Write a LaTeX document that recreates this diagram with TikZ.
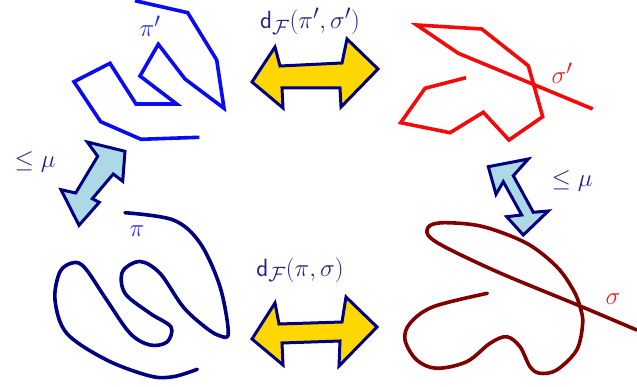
\documentclass[tikz,border=0pt]{standalone}
\usepackage{amsmath}
\definecolor{labnavy}{RGB}{35,35,140}
\definecolor{polyblue}{RGB}{10,10,245}
\definecolor{polyred}{RGB}{245,10,10}
\definecolor{curvenavy}{RGB}{0,0,128}
\definecolor{curvered}{RGB}{128,0,0}
\definecolor{arrowgold}{RGB}{255,215,0}
\definecolor{arrowlight}{RGB}{173,216,230}
\definecolor{labblue}{RGB}{40,40,235}
\definecolor{labred}{RGB}{240,30,30}
\tikzset{
  bigfont/.style={font=\fontsize{30}{36}\selectfont, inner sep=0pt},
  distlabel/.style={bigfont, text=labnavy},
  polyline/.style={line width=3.6pt, line join=miter},
  curveline/.style={line width=3.6pt, line cap=round},
  goldarrow/.style={fill=arrowgold, draw=curvenavy, line width=3pt, line join=miter},
  lightarrow/.style={fill=arrowlight, draw=curvenavy, line width=3pt, line join=miter},
}
\begin{document}
\begin{tikzpicture}[x=1pt,y=-1pt]
\useasboundingbox (0,0) rectangle (637,387);

% top-left blue polygon pi'
\draw[polyline, polyblue] (135,0.7) -- (187.7,12.7) -- (216.7,60) -- (224,108.3) -- (185,79)
  -- (158.3,44.3) -- (140,76) -- (176.7,104) -- (136,104) -- (110,63.3) -- (74,81.7)
  -- (100.7,121.7) -- (141,139.3) -- (199.3,137.3);

% top-right red polygon sigma'
\draw[polyline, polyred] (466,77.7) -- (425,88.3) -- (400.7,122.7) -- (450,132.7) -- (483.3,112.3)
  -- (509,140) -- (542.7,116.7) -- (528.3,65.7) -- (481.7,29) -- (416.7,25) -- (458.3,53.3)
  -- (592.7,109);

% bottom-left navy curve pi
\draw[curveline, curvenavy] plot[smooth, tension=0.55] coordinates {
  (125,212.7) (173.3,220) (200,243) (220,286.7) (228.3,333) (219,335.5) (205,327)
  (183,306.7) (160,273.3) (140,261.5) (122.5,271.7) (125,293.3) (150,313.3) (171,327)
  (167,342) (150,345) (130,333.3) (106.7,300) (85,268) (73.3,262.7) (60,271.7) (55,300)
  (66.7,333.3) (106.7,360) (150,376) (173.3,376.7) (197.3,369.3)};

% bottom-right dark red curve sigma
\draw[curveline, curvered] plot[smooth, tension=0.55] coordinates {
  (487.3,293.3) (433.3,306.7) (410,323.3) (405,340) (416.7,360) (436.7,368.3) (466.7,361.7)
  (490,343.3) (506.7,336.7) (520,346.7) (530,366.7) (540,373.3) (556.7,370) (576.7,350)
  (582.7,323.3) (580,306.7) (573.3,290) (556.7,266.7) (526.7,243.3) (483.3,226.7)
  (446.7,222.7) (430,225.5) (428,235) (445,247) (500,273) (580,306) (636.7,330)};

% top gold double arrow
\draw[goldarrow] (252,82) -- (275,47) -- (280,66) -- (342,63) -- (347,39) -- (378,69)
  -- (341,107) -- (340,88) -- (282,88) -- (283,108) -- cycle;

% bottom gold double arrow
\draw[goldarrow] (252,339) -- (275,303) -- (279,324) -- (342,322) -- (346,297) -- (377,327)
  -- (339,366) -- (340,341) -- (282,343) -- (283,365) -- cycle;

% left light-blue double arrow
\draw[lightarrow] (87.3,142) -- (125,151.3) -- (122.7,181.3) -- (113.3,174) -- (92.3,198.7)
  -- (99.3,202.3) -- (79,225.3) -- (61,189.7) -- (75.7,193) -- (97.7,156.3) -- cycle;

% right light-blue double arrow
\draw[lightarrow] (488.3,166.7) -- (528.3,159) -- (513.3,175.7) -- (533.3,212.3) -- (548.3,211)
  -- (523.3,235) -- (506.7,216.7) -- (521.7,215) -- (503.3,181.7) -- (496,194.3) -- cycle;

% labels
\node[distlabel] (dtop) at (310,21.5) {$\mathsf{d}_{\mathcal{F}}(\pi',\sigma')$};
\node[distlabel] (dbot) at (300,270) {$\mathsf{d}_{\mathcal{F}}(\pi,\sigma)$};
\node[distlabel] (muleft) at (35,162) {$\leq\mu$};
\node[distlabel] (muright) at (572,181) {$\leq\mu$};
\node[bigfont, text=labblue] (lpip) at (150,26) {$\pi'$};
\node[bigfont, text=labred] (lsigp) at (562,73) {$\sigma'$};
\node[bigfont, text=labblue] (lpi) at (137,231) {$\pi$};
\node[bigfont, text=labred] (lsig) at (613,299) {$\sigma$};
\end{tikzpicture}
\end{document}
